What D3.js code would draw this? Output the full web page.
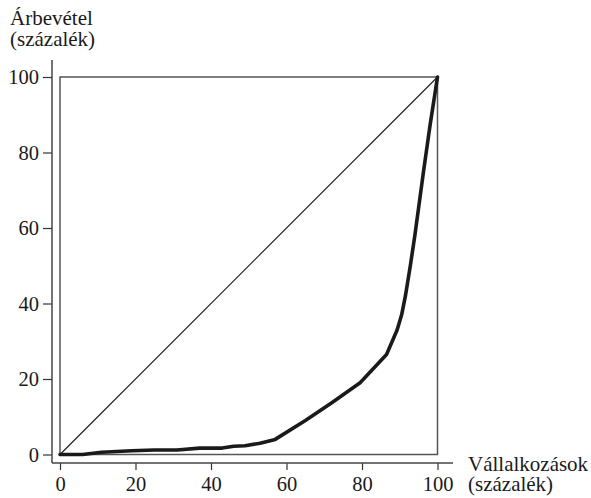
<!DOCTYPE html>
<html>
<head>
<meta charset="utf-8">
<script src="https://cdn.jsdelivr.net/npm/d3@7"></script>
</head>
<body style="margin:0;padding:0;background:#fff">
<svg id="chart" width="591" height="498" style="display:block"></svg>
<script>
// Data: cumulative share of firms (x, %) vs cumulative share of revenue (y, %)
const firmShare    = [0, 6, 11, 19, 25, 31, 37, 43, 46, 49, 53, 57, 65, 72, 79.5, 86.5, 89.3, 90.5, 91.5, 92.8, 94, 96.3, 98, 100];
const revenueShare = [0, 0, 0.6, 1.0, 1.2, 1.2, 1.7, 1.7, 2.2, 2.3, 3.0, 4.0, 9.0, 13.7, 19, 26.5, 33, 37, 42, 50, 58, 75, 87, 100];
const xTicks = [0, 20, 40, 60, 80, 100];
const yTicks = [0, 20, 40, 60, 80, 100];
const yTitle = ["Árbevétel", "(százalék)"];
const xTitle = ["Vállalkozások", "(százalék)"];

const FONT = "'Liberation Serif', 'Times New Roman', serif";
const svg = d3.select("#chart");
const x = d3.scaleLinear().domain([0, 100]).range([60, 437.5]);
const y = d3.scaleLinear().domain([0, 100]).range([454.5, 77]);

// plot frame (data area)
svg.append("rect")
  .attr("x", x(0)).attr("y", y(100))
  .attr("width", x(100) - x(0)).attr("height", y(0) - y(100))
  .attr("fill", "none").attr("stroke", "#555").attr("stroke-width", 1.5);

// equality diagonal
svg.append("line")
  .attr("x1", x(0)).attr("y1", y(0)).attr("x2", x(100)).attr("y2", y(100))
  .attr("stroke", "#1a1a1a").attr("stroke-width", 1.1);

// Lorenz curve
const pts = firmShare.map((d, i) => [d, revenueShare[i]]);
svg.append("path")
  .datum(pts)
  .attr("d", d3.line().x(d => x(d[0])).y(d => y(d[1])))
  .attr("fill", "none").attr("stroke", "#1a1a1a").attr("stroke-width", 3.6)
  .attr("stroke-linejoin", "round").attr("stroke-linecap", "round");

// offset axes
const axisX = 463, axisY = 52;
const gx = svg.append("g").attr("transform", `translate(0,${axisX})`)
  .call(d3.axisBottom(x).tickValues(xTicks).tickSize(7).tickPadding(5).tickFormat(d3.format("d")));
const gy = svg.append("g").attr("transform", `translate(${axisY},0)`)
  .call(d3.axisLeft(y).tickValues(yTicks).tickSize(9).tickPadding(4).tickFormat(d3.format("d")));
[gx, gy].forEach(g => {
  g.select(".domain").remove();
  g.selectAll(".tick line").attr("stroke", "#333").attr("stroke-width", 1.2);
  g.selectAll(".tick text")
    .style("font-family", FONT).style("font-size", "20.5px").attr("fill", "#1a1a1a");
});
gy.selectAll(".tick text").attr("dy", "0.34em");
gx.selectAll(".tick text").attr("dy", "0.8em");

// axis lines (extend beyond ticks)
svg.append("line").attr("x1", axisY).attr("x2", 453).attr("y1", axisX).attr("y2", axisX)
  .attr("stroke", "#444").attr("stroke-width", 1.5);
svg.append("line").attr("x1", axisY).attr("x2", axisY).attr("y1", 60).attr("y2", axisX)
  .attr("stroke", "#444").attr("stroke-width", 1.5);

// titles
function title(tx, ty, s) {
  svg.append("text").attr("x", tx).attr("y", ty)
    .style("font-family", FONT).style("font-size", "21px").attr("fill", "#1a1a1a").text(s);
}
title(10, 25, yTitle[0]);
title(10, 46, yTitle[1]);
title(468, 471, xTitle[0]);
title(468, 491, xTitle[1]);
</script>
</body>
</html>
